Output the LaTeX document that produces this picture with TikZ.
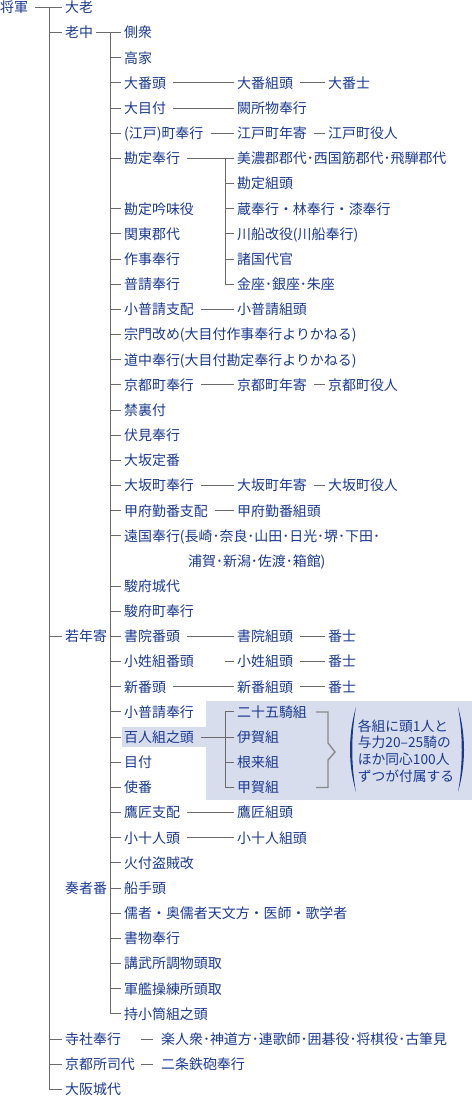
\documentclass[tikz,border=0pt]{standalone}
\usepackage{fontspec}
\setmainfont{Noto Sans CJK JP}
\definecolor{ink}{HTML}{1B3A90}
\definecolor{wire}{HTML}{6A6A6A}
\definecolor{hilite}{HTML}{D7DDED}
\definecolor{bracegray}{HTML}{8A8A8A}
\definecolor{paren}{HTML}{1A3A8C}
\newcommand{\txt}{\fontsize{14}{16}\selectfont}

\begin{document}
\begin{tikzpicture}[x=1bp,y=-25.16bp,
  post/.style={anchor=west,inner xsep=3bp,inner ysep=0pt,text height=12.3bp,text depth=1.7bp,text=ink,font=\txt},
  tree/.style={draw=wire,line width=1bp},
  link/.style={tree,shorten <=4bp},
  gather/.style={draw=bracegray,line width=1.4bp}]
  \useasboundingbox (0,-0.298) rectangle (472,43.342);
  \fill[hilite] (206,27.56) rectangle (472,31.50);
  \fill[hilite] (122,28.595) rectangle (206,29.39);

  \coordinate (t1) at (49.5,0);
  \coordinate (t2) at (110,1);
  \coordinate (t3) at (225,6);
  \coordinate (t4) at (225,28);

  \node[post] (shogun) at (-3,0) {将軍};
  \node[post] (tairo) at (62,0) {大老};
  \node[post] (roju) at (62,1) {老中};
  \node[post] (waka) at (62,25) {若年寄};
  \node[post] (soja) at (62,35) {奏者番};
  \node[post] (jisha) at (62,41) {寺社奉行};
  \node[post] (shoshi) at (62,42) {京都所司代};
  \node[post] (jodai) at (62,43) {大阪城代};
  \node[post] (gakunin) at (158,41) {楽人衆･神道方･連歌師･囲碁役･将棋役･古筆見};
  \node[post] (nijo) at (158,42) {二条鉄砲奉行};

  \foreach \r/\t in {1/側衆,2/高家,3/大番頭,4/大目付,5/{(江戸)町奉行},6/勘定奉行,
    8/勘定吟味役,9/関東郡代,10/作事奉行,11/普請奉行,12/小普請支配,
    13/{宗門改め(大目付作事奉行よりかねる)},14/{道中奉行(大目付勘定奉行よりかねる)},
    15/京都町奉行,16/禁裏付,17/伏見奉行,18/大坂定番,19/大坂町奉行,20/甲府勤番支配,
    21/{遠国奉行(長崎･奈良･山田･日光･堺･下田･},23/駿府城代,24/駿府町奉行,
    25/書院番頭,26/小姓組番頭,27/新番頭,28/小普請奉行,29/百人組之頭,30/目付,31/使番,
    32/鷹匠支配,33/小十人頭,34/火付盗賊改,35/船手頭,36/儒者・奥儒者天文方・医師・歌学者,
    37/書物奉行,38/講武所調物頭取,39/軍艦操練所頭取,40/持小筒組之頭}
    \node[post] (k\r) at (121,\r) {\t};
  \node[post] (ongoku) at (185,22) {浦賀･新潟･佐渡･箱館)};

  \foreach \r/\t in {3/大番組頭,4/闕所物奉行,5/江戸町年寄,6/美濃郡郡代･西国筋郡代･飛騨郡代,
    7/勘定組頭,8/蔵奉行・林奉行・漆奉行,9/{川船改役(川船奉行)},10/諸国代官,11/金座･銀座･朱座,
    12/小普請組頭,15/京都町年寄,19/大坂町年寄,20/甲府勤番組頭,25/書院組頭,26/小姓組頭,
    27/新番組頭,28/二十五騎組,29/伊賀組,30/根来組,31/甲賀組,32/鷹匠組頭,33/小十人組頭}
    \node[post] (c\r) at (234,\r) {\t};

  \foreach \r/\t in {3/大番士,5/江戸町役人,15/京都町役人,19/大坂町役人,25/番士,26/番士,27/番士}
    \node[post] (d\r) at (325,\r) {\t};

  \node[text=ink,align=left,inner sep=0pt,font=\fontsize{13.8}{16.7}\selectfont] (note) at (406,29.55)
    {各組に頭1人と\\与力20–25騎の\\ほか同心100人\\ずつが付属する};

  \draw[link] (shogun.east) -- (tairo.west);
  \foreach \n in {roju,waka,jisha,shoshi,jodai}
    \draw[tree] (t1) |- (\n.west);
  \draw[tree] (roju.east) -- (k1.west);
  \foreach \r in {1,...,6,8,9,...,21,23,24,...,40}
    \draw[tree] (t2) |- (k\r.west);
  \foreach \r in {3,4,5,6,12,15,19,20,25,27,29,32,33}
    \draw[link] (k\r.east) -- (c\r.west);
  \draw[link,shorten <=28bp] (k26.east) -- (c26.west);
  \foreach \r in {6,...,11}
    \draw[tree] (t3) |- (c\r.west);
  \foreach \r in {28,...,31}
    \draw[tree] (t4) |- (c\r.west);
  \foreach \r in {3,5,15,19,25,26,27}
    \draw[link] (c\r.east) -- (d\r.west);
  \draw[link,shorten <=17bp,shorten >=5bp] (jisha.east) -- (gakunin.west);
  \draw[link,shorten <=3bp,shorten >=5bp] (shoshi.east) -- (nijo.west);

  \draw[gather] (316,28) -- (328,28) -- (328,29.23) -- (335,29.59) -- (328,29.91) -- (328,31) -- (316,31);
  \fill[paren] (356,27.8) .. controls (348,28.9) and (348,30.1) .. (356,31.18)
    .. controls (351,30.1) and (351,28.9) .. (356,27.8);
  \fill[paren] (458,27.8) .. controls (466,28.9) and (466,30.1) .. (458,31.18)
    .. controls (463,30.1) and (463,28.9) .. (458,27.8);
\end{tikzpicture}
\end{document}
